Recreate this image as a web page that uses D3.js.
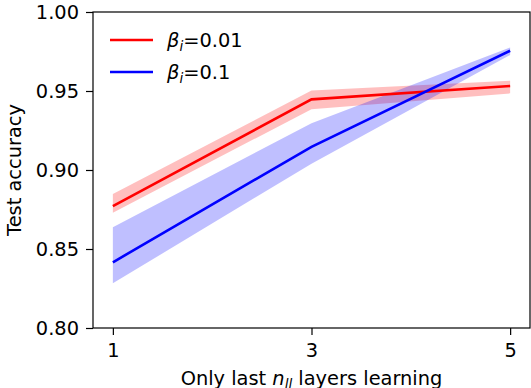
<!DOCTYPE html>
<html>
<head>
<meta charset="utf-8">
<script src="https://cdn.jsdelivr.net/npm/d3@7"></script>
<style>
  body { margin: 0; background: #fff; }
  svg { display: block; font-family: "DejaVu Sans", sans-serif; }
</style>
</head>
<body>
<div id="wrapper"></div>
<script>
// data
const layers = [1, 3, 5]
const seriesNames = ["0.01", "0.1"]
const seriesColors = ["#ff0000", "#0000ff"]
const meanSmall = [0.8772, 0.9447, 0.9532]
const lowSmall = [0.8730, 0.9385, 0.9485]
const highSmall = [0.8848, 0.9503, 0.9565]
const meanLarge = [0.8416, 0.9147, 0.9755]
const lowLarge = [0.8283, 0.9040, 0.9728]
const highLarge = [0.8637, 0.9296, 0.9776]
const yTicks = [0.80, 0.85, 0.90, 0.95, 1.00]
const xTicks = [1, 3, 5]

const series = [
  { name: seriesNames[0], color: seriesColors[0], mean: meanSmall, low: lowSmall, high: highSmall },
  { name: seriesNames[1], color: seriesColors[1], mean: meanLarge, low: lowLarge, high: highLarge },
]

const width = 531
const height = 388
const margin = { top: 12, right: 1, bottom: 60, left: 93 }
const fontSize = "19.4px"

const svg = d3.select("#wrapper")
  .append("svg")
  .attr("width", width)
  .attr("height", height)

const xScale = d3.scaleLinear()
  .domain([0.8, 5.2])
  .range([margin.left, width - margin.right])

const yScale = d3.scaleLinear()
  .domain([0.8, 1.0])
  .range([height - margin.bottom, margin.top])

// bands first, then lines on top
const area = d3.area()
  .x((d, i) => xScale(layers[i]))
  .y0(d => yScale(d[0]))
  .y1(d => yScale(d[1]))

const line = d3.line()
  .x((d, i) => xScale(layers[i]))
  .y(d => yScale(d))

series.forEach(s => {
  svg.append("path")
    .datum(s.low.map((v, i) => [v, s.high[i]]))
    .attr("d", area)
    .attr("fill", s.color)
    .attr("fill-opacity", 0.25)
})

series.forEach(s => {
  svg.append("path")
    .datum(s.mean)
    .attr("d", line)
    .attr("fill", "none")
    .attr("stroke", s.color)
    .attr("stroke-width", 2.6)
})

// axes
const xAxis = svg.append("g")
  .attr("transform", `translate(0,${height - margin.bottom})`)
  .call(d3.axisBottom(xScale).tickValues(xTicks).tickFormat(d3.format("d")).tickSize(7).tickPadding(8))

const yAxis = svg.append("g")
  .attr("transform", `translate(${margin.left},0)`)
  .call(d3.axisLeft(yScale).tickValues(yTicks).tickFormat(d3.format(".2f")).tickSize(7).tickPadding(7))

svg.selectAll(".domain").remove()
svg.selectAll(".tick line").attr("stroke", "#000").attr("stroke-width", 1.2)
svg.selectAll(".tick text")
  .attr("fill", "#000")
  .style("font-size", fontSize)
  .style("font-family", "DejaVu Sans")

// frame
svg.append("rect")
  .attr("x", margin.left)
  .attr("y", margin.top)
  .attr("width", width - margin.right - margin.left)
  .attr("height", height - margin.bottom - margin.top)
  .attr("fill", "none")
  .attr("stroke", "#000")
  .attr("stroke-width", 1.2)

// axis labels
const xLabel = svg.append("text")
  .attr("x", (margin.left + width - margin.right) / 2)
  .attr("y", 384.5)
  .attr("text-anchor", "middle")
  .style("font-size", fontSize)
xLabel.append("tspan").text("Only last ")
xLabel.append("tspan").attr("font-style", "italic").text("n")
xLabel.append("tspan").attr("font-style", "italic").attr("font-size", "13.5px").attr("dy", 4).text("ll")
xLabel.append("tspan").attr("dy", -4).text(" layers learning")

svg.append("text")
  .attr("transform", `translate(21.4,${(margin.top + height - margin.bottom) / 2}) rotate(-90)`)
  .attr("text-anchor", "middle")
  .style("font-size", fontSize)
  .text("Test accuracy")

// legend
const legend = svg.append("g")
series.forEach((s, i) => {
  const y = 40 + i * 32
  legend.append("line")
    .attr("x1", 110).attr("x2", 153)
    .attr("y1", y).attr("y2", y)
    .attr("stroke", s.color)
    .attr("stroke-width", 2.6)
  const t = legend.append("text")
    .attr("x", 167)
    .attr("y", y + 6.7)
    .style("font-size", fontSize)
  t.append("tspan").attr("font-style", "italic").text("β")
  t.append("tspan").attr("font-style", "italic").attr("font-size", "13.5px").attr("dy", 4).text("i")
  t.append("tspan").attr("dy", -4).text("=" + s.name)
})
</script>
</body>
</html>
